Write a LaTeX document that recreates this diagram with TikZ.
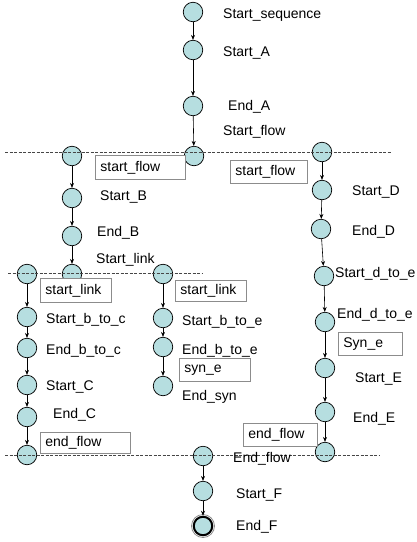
\documentclass[tikz,border=0pt]{standalone}
\usepackage{fontspec}
\setmainfont{Liberation Sans}
\usetikzlibrary{arrows.meta}
\definecolor{statefill}{RGB}{182,222,224}
\definecolor{boxline}{RGB}{140,140,140}
\definecolor{sepline}{RGB}{70,70,70}
\tikzset{
  st/.style={circle, draw=black, line width=0.7pt, fill=statefill, minimum size=19.5pt, inner sep=0pt},
  final/.style={st, line width=2pt, minimum size=18.5pt},
  arr/.style={draw=black, line width=0.6pt, -{Stealth[length=5pt,width=4pt]}},
  lbl/.style={anchor=base west, inner sep=0pt, font=\fontsize{14}{16}\selectfont},
  tag/.style={draw=boxline, line width=0.8pt, fill=white, anchor=north west, inner xsep=5pt, inner ysep=0pt, align=left, font=\fontsize{14}{16}\selectfont},
  sep/.style={draw=sepline, line width=0.9pt, dash pattern=on 3pt off 1.5pt}
}
\begin{document}
\begin{tikzpicture}[x=1pt, y=-1pt]
\useasboundingbox (0,0) rectangle (417,542);

% main sequence
\node[st] (a0) at (193,12) {};
\node[st] (a1) at (193,50) {};
\node[st] (a2) at (193,106) {};
\node[st] (f0) at (194,156) {};

% branch B
\node[st] (l0) at (72,156) {};
\node[st] (b1) at (72,198) {};
\node[st] (b2) at (72,236) {};
\node[st] (b3) at (72,274) {};

% branch D / E
\node[st] (d0) at (322,152) {};
\node[st] (d1) at (322,190) {};
\node[st] (d2) at (321,229) {};
\node[st] (d3) at (324,276) {};
\node[st] (d4) at (325,322) {};
\node[st] (e1) at (325,368) {};
\node[st] (e2) at (325,412) {};
\node[st] (e3) at (325,452) {};

% branch b to c
\node[st] (c0) at (27,274) {};
\node[st] (c1) at (27,317) {};
\node[st] (c2) at (27,348) {};
\node[st] (c3) at (27,385) {};
\node[st] (c4) at (27,417) {};
\node[st] (c5) at (27,455) {};

% branch b to e
\node[st] (m0) at (163,274) {};
\node[st] (m1) at (163,318) {};
\node[st] (m2) at (163,347) {};
\node[st] (m3) at (163,386) {};

% tail F
\node[st] (g0) at (203,456) {};
\node[st] (g1) at (203,491) {};
\draw[boxline, line width=0.8pt] (203,526) circle (11.5pt);
\node[final] (g2) at (203,526) {};

% transitions
\draw[arr] (a0) -- (a1);
\draw[arr] (a1) -- (a2);
\draw[arr] (a2) -- (f0);
\draw[arr] (l0) -- (b1);
\draw[arr] (b1) -- (b2);
\draw[arr] (b2) -- (b3);
\draw[arr] (d0) -- (d1);
\draw[arr] (d1) -- (d2);
\draw[arr] (d2) -- (d3);
\draw[arr] (d3) -- (d4);
\draw[arr] (d4) -- (e1);
\draw[arr] (e1) -- (e2);
\draw[arr] (e2) -- (e3);
\draw[arr] (c0) -- (c1);
\draw[arr] (c1) -- (c2);
\draw[arr] (c2) -- (c3);
\draw[arr] (c3) -- (c4);
\draw[arr] (c4) -- (c5);
\draw[arr] (m0) -- (m1);
\draw[arr] (m1) -- (m2);
\draw[arr] (m2) -- (m3);
\draw[arr] (g0) -- (g1);
\draw[arr] (g1) -- (g2);

% fork / join lines
\coordinate (s1a) at (5,152);   \coordinate (s1b) at (392,152);
\coordinate (s2a) at (8,273);   \coordinate (s2b) at (203,273);
\coordinate (s3a) at (5,455);   \coordinate (s3b) at (380,455);
\draw[sep] (s1a) -- (s1b);
\draw[sep] (s2a) -- (s2b);
\draw[sep] (s3a) -- (s3b);

% signal tags
\node[tag, text width=80pt, minimum height=24pt] (t1) at (95,155) {start\_flow};
\node[tag, text width=67pt, minimum height=23pt] (t2) at (230,160) {start\_flow};
\node[tag, text width=61pt, minimum height=24pt] (t3) at (40,278) {start\_link};
\node[tag, text width=61pt, minimum height=21pt] (t4) at (175,280) {start\_link};
\node[tag, text width=61pt, minimum height=23pt] (t5) at (179,358) {syn\_e};
\node[tag, text width=54pt, minimum height=23pt] (t6) at (338,332) {Syn\_e};
\node[tag, text width=80pt, minimum height=21pt] (t7) at (40,432) {end\_flow};
\node[tag, text width=64pt, minimum height=23pt] (t8) at (243,423) {end\_flow};

% state labels
\node[lbl] (n1) at (223,18) {Start\_sequence};
\node[lbl] (n2) at (223,56) {Start\_A};
\node[lbl] (n3) at (228,110) {End\_A};
\node[lbl] (n4) at (223,135) {Start\_flow};
\node[lbl] (n5) at (100,200) {Start\_B};
\node[lbl] (n6) at (97,236) {End\_B};
\node[lbl] (n7) at (96,263) {Start\_link};
\node[lbl] (n8) at (352,195) {Start\_D};
\node[lbl] (n9) at (352,235) {End\_D};
\node[lbl] (n10) at (335,277) {Start\_d\_to\_e};
\node[lbl] (n11) at (337,318) {End\_d\_to\_e};
\node[lbl] (n12) at (355,382) {Start\_E};
\node[lbl] (n13) at (353,422) {End\_E};
\node[lbl] (n14) at (233,462) {End\_flow};
\node[lbl] (n15) at (46,323) {Start\_b\_to\_c};
\node[lbl] (n16) at (46,354) {End\_b\_to\_c};
\node[lbl] (n17) at (46,390) {Start\_C};
\node[lbl] (n18) at (53,418) {End\_C};
\node[lbl] (n19) at (182,325) {Start\_b\_to\_e};
\node[lbl] (n20) at (182,354) {End\_b\_to\_e};
\node[lbl] (n21) at (182,400) {End\_syn};
\node[lbl] (n22) at (236,498) {Start\_F};
\node[lbl] (n23) at (236,530) {End\_F};
\end{tikzpicture}
\end{document}
